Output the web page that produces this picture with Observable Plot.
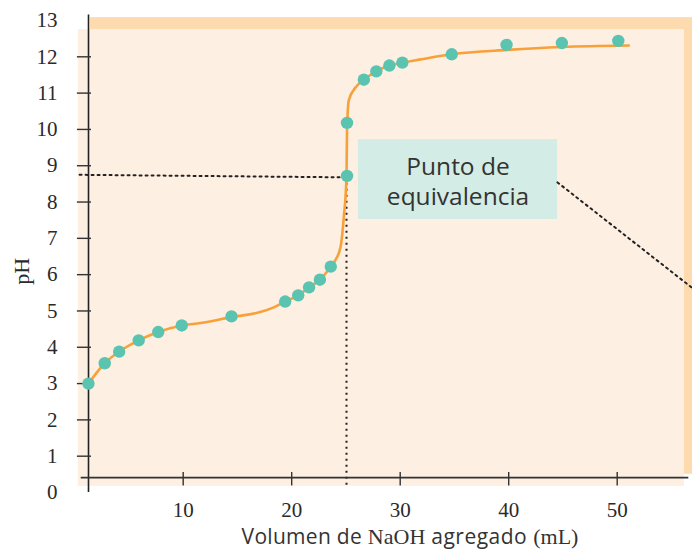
<!DOCTYPE html>
<html><head><meta charset="utf-8">
<script src="https://cdn.jsdelivr.net/npm/d3@7"></script>
<script src="https://cdn.jsdelivr.net/npm/@observablehq/plot@0.6"></script>
<style>body{margin:0;background:#fff}</style>
</head><body><div id="chart"></div>
<script>
// measured titration points
const volume = [1.27, 2.77, 4.1, 5.9, 7.7, 9.87, 14.45, 19.4, 20.6, 21.6, 22.6, 23.6, 25.1, 25.1, 26.65, 27.8, 29.0, 30.2, 34.75, 39.8, 44.9, 50.1];
const pH = [3.00, 3.56, 3.88, 4.19, 4.42, 4.60, 4.85, 5.26, 5.43, 5.65, 5.86, 6.22, 8.72, 10.18, 11.37, 11.6, 11.76, 11.84, 12.07, 12.33, 12.38, 12.44];
// fitted curve
const curveVolume = [1.27, 2.77, 4.1, 5.9, 7.7, 9.87, 11.6, 14.45, 17.1, 18.35, 19.4, 20.6, 21.6, 22.6, 23.6, 24.0, 24.5, 24.8, 25.05, 25.1, 25.26, 25.9, 26.65, 27.8, 29.0, 30.2, 31.9, 34.75, 39.9, 44.9, 51.07];
const curvePH = [3.0, 3.56, 3.88, 4.19, 4.42, 4.60, 4.67, 4.83, 4.97, 5.10, 5.26, 5.43, 5.65, 5.86, 6.22, 6.39, 6.76, 7.58, 8.7, 9.97, 10.8, 11.16, 11.37, 11.6, 11.76, 11.84, 11.93, 12.07, 12.19, 12.27, 12.31];
const xTicks = [10, 20, 30, 40, 50];
const yTickLabels = [0, 1, 2, 3, 4, 5, 6, 7, 8, 9, 10, 11, 12, 13];
const yTickMarks = [1, 2, 3, 4, 5, 6, 7, 8, 9, 10, 11, 12];
const eqVolume = 25.05;
const labelText = "Punto de\nequivalencia";

const points = volume.map((v, i) => ({v, p: pH[i]}));
const curve = curveVolume.map((v, i) => ({v, p: curvePH[i]}));

const INK = "#222";
const dots = "2,4";

const chart = Plot.plot({
  width: 692, height: 551,
  marginTop: 20, marginBottom: 59, marginLeft: 88, marginRight: 0,
  x: {domain: [1.272, 56.94]},
  y: {domain: [0, 13]},
  style: {background: "transparent", fontFamily: "Liberation Serif, serif"},
  marks: [
    Plot.rect([0], {x1: 1.46, x2: 58, y1: 0.5, y2: 13.08, fill: "#FDDBAF"}),
    Plot.rect([0], {x1: 0.33, x2: 56.2, y1: 0.17, y2: 12.75, fill: "#FDEFE2"}),
    Plot.rect([0], {x1: 26.15, x2: 44.5, y1: 7.52, y2: 9.72, fill: "#D3ECE5"}),
    // dotted guides
    Plot.line([[0.45, 8.75], [eqVolume, 8.68]], {stroke: INK, strokeWidth: 2, strokeDasharray: dots}),
    Plot.ruleX([eqVolume], {y1: 0.2, y2: 8.68, stroke: INK, strokeWidth: 2, strokeDasharray: dots}),
    Plot.line([[44.5, 8.54], [57.7, 5.45]], {stroke: INK, strokeWidth: 2, strokeDasharray: dots}),
    // axes lines and ticks
    Plot.ruleX([1.272], {y1: 0, y2: 13.15, stroke: INK, strokeWidth: 1.6}),
    Plot.ruleY([0.41], {x1: 0.6, x2: 56.6, stroke: "#333", strokeWidth: 1.6}),
    Plot.ruleX(xTicks, {y1: 0.18, y2: 0.55, stroke: "#333", strokeWidth: 1.4}),
    Plot.ruleY(yTickMarks, {x1: 0.25, x2: 1.55, stroke: "#333", strokeWidth: 1.4}),
    Plot.axisY(yTickLabels, {tickSize: 0, tickPadding: 31, fontSize: 21, label: null, color: "#2a2a2a"}),
    Plot.axisX(xTicks, {tickSize: 0, tickPadding: 10, fontSize: 21, label: null, color: "#2a2a2a"}),
    // curve and points
    Plot.line(curve, {x: "v", y: "p", curve: "monotone-x", stroke: "#F8A03A", strokeWidth: 2.6}),
    Plot.dot(points, {x: "v", y: "p", r: 6.2, fill: "#5BC4B1"}),
    // annotation text
    Plot.text([labelText], {x: 35.33, y: 8.6, text: d => d, fontSize: 24.5, lineHeight: 1.25, fill: "#333",
      fontFamily: "Open Sans, sans-serif", fontWeight: 400}),
    Plot.text(["pH"], {x: -4.9, y: 6.09, text: d => d, rotate: -90, fontSize: 22, fill: "#2a2a2a", fontWeight: 400})
  ]
});

// mixed-font x label
const svg = d3.select(chart);
const t = svg.append("text")
  .attr("x", 410).attr("y", 544)
  .attr("text-anchor", "middle")
  .attr("fill", "#333");
t.append("tspan").attr("font-family", "Open Sans, sans-serif").attr("font-size", 21).attr("letter-spacing", 0.3).text("Volumen de ");
t.append("tspan").attr("font-family", "Liberation Serif, serif").attr("font-size", 22).text("NaOH");
t.append("tspan").attr("font-family", "Open Sans, sans-serif").attr("font-size", 21).attr("letter-spacing", 0.5).text(" agregado ");
t.append("tspan").attr("font-family", "Liberation Serif, serif").attr("font-size", 22).text("(mL)");

document.getElementById("chart").appendChild(chart);
</script>
</body></html>
